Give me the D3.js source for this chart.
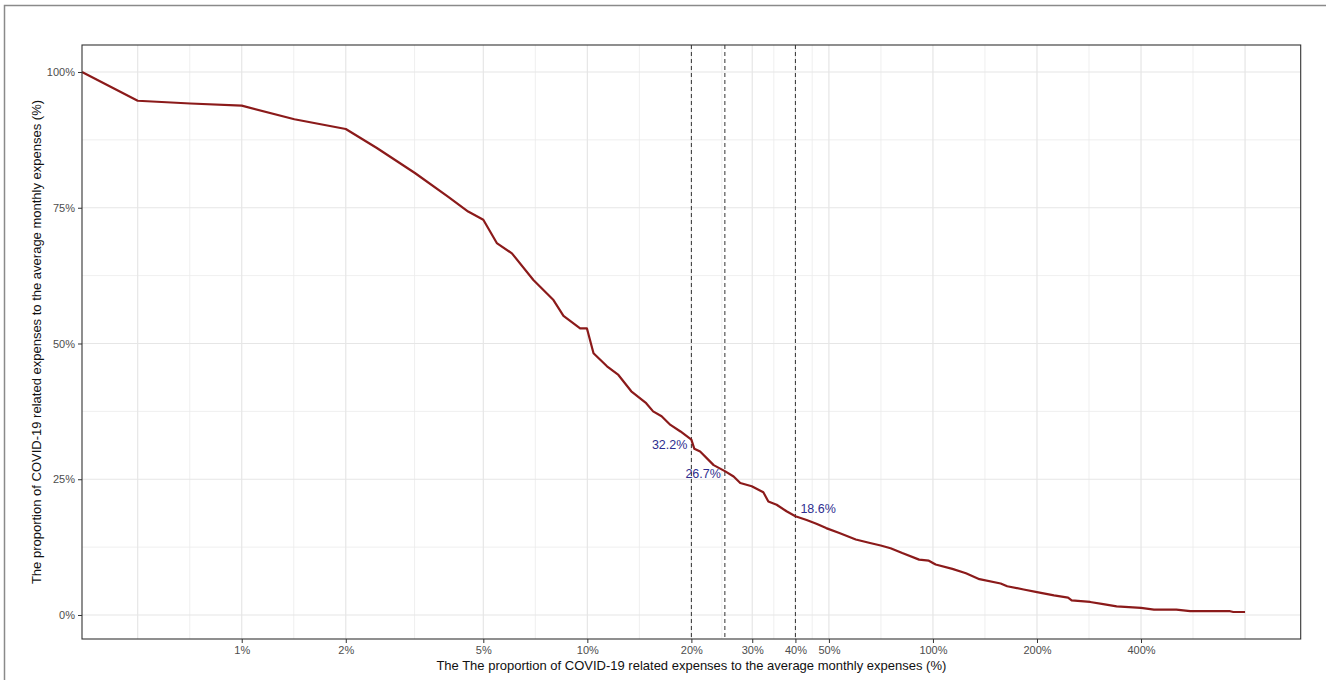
<!DOCTYPE html>
<html>
<head>
<meta charset="utf-8">
<script src="https://cdn.jsdelivr.net/npm/d3@7"></script>
<style>
body { margin: 0; background: #fff; }
svg { display: block; font-family: "Liberation Sans", Arial, sans-serif; }
</style>
</head>
<body>
<div id="chart"></div>
<script>
var width = 1326, height = 680;

// curve: share of COVID-19 expenses (x, %) vs proportion of respondents (y, %)
// first point sits at -Inf on the log axis (drawn at the panel edge)
var xVals = [0, 0.5, 0.71, 1, 1.42, 2, 2.46, 3.17, 3.96, 4.52, 5, 5.47, 6.05, 6.98, 7.98, 8.53, 9.53, 9.97, 10.42, 11.4, 12.3, 13.4, 14.8, 15.5, 16.4, 17.4, 18.6, 20, 20.4, 21.2, 23.2, 25, 26.5, 27.7, 29.9, 32.3, 33.4, 35.3, 37.7, 40, 43.1, 46, 49.1, 53.6, 59.8, 65.3, 70.6, 75.4, 81.5, 91.2, 97.3, 101.8, 113.8, 124.6, 136.3, 157, 164, 183, 200, 224, 246, 252, 285, 311, 340, 400, 436, 506, 555, 724, 740, 800];
var yVals = [100, 94.7, 94.2, 93.8, 91.3, 89.5, 86.0, 81.4, 77.0, 74.3, 72.8, 68.5, 66.6, 61.7, 58.0, 55.1, 52.8, 52.8, 48.2, 45.8, 44.2, 41.2, 39.0, 37.5, 36.6, 35.0, 33.8, 32.3, 30.6, 30.1, 27.6, 26.5, 25.5, 24.3, 23.7, 22.6, 20.9, 20.3, 19.1, 18.2, 17.5, 16.8, 16.0, 15.1, 13.9, 13.3, 12.8, 12.3, 11.4, 10.2, 10.0, 9.3, 8.5, 7.7, 6.6, 5.8, 5.3, 4.7, 4.2, 3.6, 3.2, 2.7, 2.4, 2.0, 1.6, 1.3, 1.0, 1.0, 0.7, 0.7, 0.55, 0.55];

var xBreaks = [0.5, 1, 2, 5, 10, 20, 30, 40, 50, 100, 200, 400, 800];
var xTicks = [1, 2, 5, 10, 20, 30, 40, 50, 100, 200, 400];
var yBreaks = [0, 25, 50, 75, 100];
var yMinor = [12.5, 37.5, 62.5, 87.5];

var cutoffs = [20, 25, 40];
var cutoffVals = [32.2, 26.7, 18.6];
var cutoffLabels = ["32.2%", "26.7%", "18.6%"];

var xTitle = "The The proportion of COVID-19 related expenses to the average monthly expenses (%)";
var yTitle = "The proportion of COVID-19 related expenses to the average monthly expenses (%)";

var panel = { left: 82, right: 1300.7, top: 45, bottom: 639 };

var x = d3.scaleLog().domain([0.345, 1159]).range([panel.left, panel.right]).clamp(true);
var y = d3.scaleLinear().domain([-4.42, 104.97]).range([panel.bottom, panel.top]);

var xMinor = [];
for (var i = 0; i < xBreaks.length - 1; i++) {
    xMinor.push(Math.sqrt(xBreaks[i] * xBreaks[i + 1]));
}

var svg = d3.select("#chart").append("svg").attr("width", width).attr("height", height);

// outer frame of the figure
svg.append("rect")
    .attr("x", 4.5).attr("y", 5.5)
    .attr("width", width + 10).attr("height", height + 10)
    .attr("fill", "none").attr("stroke", "#8a8a8a").attr("stroke-width", 1.5);

var grid = svg.append("g");

grid.selectAll(".xminor").data(xMinor).enter().append("line")
    .attr("x1", function (d) { return x(d); }).attr("x2", function (d) { return x(d); })
    .attr("y1", panel.top).attr("y2", panel.bottom)
    .attr("stroke", "#ebebeb").attr("stroke-width", 0.8);

grid.selectAll(".yminor").data(yMinor).enter().append("line")
    .attr("x1", panel.left).attr("x2", panel.right)
    .attr("y1", function (d) { return y(d); }).attr("y2", function (d) { return y(d); })
    .attr("stroke", "#ebebeb").attr("stroke-width", 0.8);

grid.selectAll(".xmajor").data(xBreaks).enter().append("line")
    .attr("x1", function (d) { return x(d); }).attr("x2", function (d) { return x(d); })
    .attr("y1", panel.top).attr("y2", panel.bottom)
    .attr("stroke", "#e6e6e6").attr("stroke-width", 1.2);

grid.selectAll(".ymajor").data(yBreaks).enter().append("line")
    .attr("x1", panel.left).attr("x2", panel.right)
    .attr("y1", function (d) { return y(d); }).attr("y2", function (d) { return y(d); })
    .attr("stroke", "#e6e6e6").attr("stroke-width", 1.2);

// dashed cut-off lines
svg.selectAll(".cut").data(cutoffs).enter().append("line")
    .attr("x1", function (d) { return x(d); }).attr("x2", function (d) { return x(d); })
    .attr("y1", panel.top).attr("y2", panel.bottom)
    .attr("stroke", "#333").attr("stroke-width", 1).attr("stroke-dasharray", "4,3");

var pts = xVals.map(function (d, i) { return [d, yVals[i]]; });

var lineFunction = d3.line()
    .x(function (d) { return x(d[0]); })
    .y(function (d) { return y(d[1]); });

svg.append("path")
    .attr("d", lineFunction(pts))
    .attr("fill", "none")
    .attr("stroke", "#8b1a1a")
    .attr("stroke-width", 2.2)
    .attr("stroke-linejoin", "round");

// labels at the cut-offs
var labelPos = [
    { dx: -4, dy: 9, anchor: "end" },
    { dx: -4, dy: 8, anchor: "end" },
    { dx: 5, dy: -1, anchor: "start" }
];
svg.selectAll(".lab").data(cutoffs).enter().append("text")
    .attr("x", function (d, i) { return x(d) + labelPos[i].dx; })
    .attr("y", function (d, i) { return y(cutoffVals[i]) + labelPos[i].dy; })
    .attr("text-anchor", function (d, i) { return labelPos[i].anchor; })
    .attr("font-size", "12.5px")
    .attr("fill", "#2e2e8f")
    .text(function (d, i) { return cutoffLabels[i]; });

// panel border
svg.append("rect")
    .attr("x", panel.left).attr("y", panel.top)
    .attr("width", panel.right - panel.left).attr("height", panel.bottom - panel.top)
    .attr("fill", "none").attr("stroke", "#333").attr("stroke-width", 1.1);

// axes
var xAxis = svg.append("g")
    .attr("transform", "translate(0," + panel.bottom + ")")
    .call(d3.axisBottom(x).tickValues(xTicks).tickSize(4).tickPadding(3)
        .tickFormat(function (d) { return d + "%"; }));
xAxis.select(".domain").remove();
xAxis.selectAll("line").attr("stroke", "#333");
xAxis.selectAll("text").attr("fill", "#4d4d4d").attr("font-size", "11px").attr("font-family", null);

var yAxis = svg.append("g")
    .attr("transform", "translate(" + panel.left + ",0)")
    .call(d3.axisLeft(y).tickValues(yBreaks).tickSize(4).tickPadding(3)
        .tickFormat(function (d) { return d + "%"; }));
yAxis.select(".domain").remove();
yAxis.selectAll("line").attr("stroke", "#333");
yAxis.selectAll("text").attr("fill", "#4d4d4d").attr("font-size", "11px").attr("font-family", null);

svg.append("text")
    .attr("x", (panel.left + panel.right) / 2)
    .attr("y", 670)
    .attr("text-anchor", "middle")
    .attr("font-size", "13px")
    .attr("fill", "#111")
    .text(xTitle);

svg.append("text")
    .attr("transform", "translate(41," + (panel.top + panel.bottom) / 2 + ") rotate(-90)")
    .attr("text-anchor", "middle")
    .attr("font-size", "13px")
    .attr("fill", "#111")
    .text(yTitle);
</script>
</body>
</html>
